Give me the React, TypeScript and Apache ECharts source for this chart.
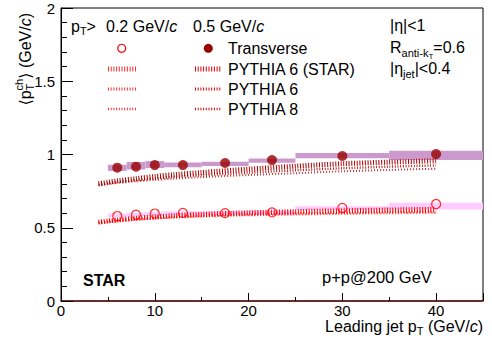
import React, { useEffect, useRef } from "react";
import * as echarts from "echarts";

// ---- data ----
const binLo = [5, 7, 9, 11, 15, 20, 25, 35];
const binHi = [7, 9, 11, 15, 20, 25, 35, 45];
const ptX = [6, 8, 10, 13, 17.5, 22.5, 30, 40];
const trans05 = [0.91, 0.917, 0.928, 0.928, 0.942, 0.962, 0.99, 1.003];
const trans02 = [0.58, 0.589, 0.597, 0.601, 0.6, 0.605, 0.635, 0.662];
const sys05Lo = [0.888, 0.898, 0.908, 0.913, 0.922, 0.944, 0.975, 0.962];
const sys05Hi = [0.93, 0.948, 0.955, 0.945, 0.95, 0.972, 1.01, 1.025];
const sys02Lo = [0.572, 0.577, 0.582, 0.586, 0.588, 0.592, 0.622, 0.625];
const sys02Hi = [0.597, 0.602, 0.607, 0.612, 0.612, 0.617, 0.646, 0.671];

const curveX = [4, 5, 6, 8, 10, 12, 15, 20, 25, 30, 35, 40];
const py6star05 = [0.8, 0.81, 0.82, 0.835, 0.85, 0.862, 0.877, 0.9, 0.92, 0.937, 0.948, 0.957];
const py6_05 = [0.795, 0.804, 0.812, 0.825, 0.836, 0.846, 0.858, 0.876, 0.892, 0.906, 0.917, 0.926];
const py8_05 = [0.79, 0.798, 0.805, 0.817, 0.826, 0.835, 0.845, 0.86, 0.872, 0.885, 0.895, 0.903];
const py6star02 = [0.538, 0.546, 0.553, 0.565, 0.574, 0.582, 0.591, 0.602, 0.61, 0.616, 0.621, 0.626];
const py6_02 = [0.535, 0.542, 0.549, 0.56, 0.568, 0.575, 0.583, 0.592, 0.598, 0.603, 0.607, 0.61];
const py8_02 = [0.532, 0.539, 0.545, 0.555, 0.563, 0.569, 0.576, 0.585, 0.59, 0.595, 0.599, 0.602];

const FONT = '"Liberation Sans", Arial, "DejaVu Sans", sans-serif';

type Part = { t: string; s: number; dy?: number; it?: boolean; b?: boolean; back?: boolean };

let _ctx: CanvasRenderingContext2D | null = null;
function fontOf(p: Part) {
  return `${p.it ? "italic " : ""}${p.b ? "bold " : ""}${p.s}px ${FONT}`;
}
function tw(p: Part) {
  if (!_ctx) _ctx = document.createElement("canvas").getContext("2d");
  _ctx!.font = fontOf(p);
  return _ctx!.measureText(p.t).width;
}
function layout(parts: Part[]) {
  let cur = 0;
  let lastStart = 0;
  let lastW = 0;
  const pos: number[] = [];
  parts.forEach((p) => {
    const w = tw(p);
    if (p.back) {
      pos.push(lastStart);
      cur = lastStart + Math.max(lastW, w);
      lastW = Math.max(lastW, w);
    } else {
      pos.push(cur);
      lastStart = cur;
      lastW = w;
      cur += w;
    }
  });
  return { pos, width: cur };
}
function run(parts: Part[], x0: number, y0: number, color: string, align: "left" | "right" = "left") {
  const { pos, width } = layout(parts);
  const start = align === "right" ? x0 - width : x0;
  return parts.map((p, i) => ({
    type: "text",
    x: start + pos[i],
    y: y0 + (p.dy || 0),
    silent: true,
    style: { text: p.t, font: fontOf(p), fill: color, textAlign: "left", textVerticalAlign: "middle" },
  }));
}

function hline(x1: number, x2: number, y: number, color: string, w: number, dash: number[]) {
  return {
    type: "line",
    silent: true,
    shape: { x1, y1: y, x2, y2: y },
    style: { stroke: color, lineWidth: w, lineDash: dash },
  };
}

export default function App() {
  const ref = useRef<HTMLDivElement>(null);
  useEffect(() => {
    document.body.style.margin = "0";
    const chart = echarts.init(ref.current!, null, { renderer: "svg" });

    const boxes05 = binLo.map((b, i) => [b, binHi[i], sys05Lo[i], sys05Hi[i]]);
    const boxes02 = binLo.map((b, i) => [b, binHi[i], sys02Lo[i], sys02Hi[i]]);
    const boxSeries = (data: number[][], color: string) => ({
      type: "custom",
      data,
      encode: { x: [0, 1], y: [2, 3] },
      renderItem: (_p: any, api: any) => {
        const a = api.coord([api.value(0), api.value(3)]);
        const b = api.coord([api.value(1), api.value(2)]);
        return {
          type: "rect",
          shape: { x: a[0], y: a[1], width: b[0] - a[0], height: b[1] - a[1] },
          style: { fill: color },
        };
      },
      z: 1,
    });
    const curve = (ys: number[], color: string, width: number, dash: number[], opacity = 1) => ({
      type: "line",
      data: curveX.map((x, i) => [x, ys[i]]),
      smooth: 0.3,
      showSymbol: false,
      symbol: "none",
      lineStyle: { color, width, type: dash, opacity },
      z: 2,
    });

    const red = "#ff0000";
    const dred = "#aa0000";

    const ytitle = [
      { t: "⟨p", s: 16 },
      { t: "T", s: 11, dy: 5 },
      { t: "ch", s: 11, dy: -6, back: true },
      { t: "⟩ (GeV/", s: 16 },
      { t: "c", s: 16, it: true },
      { t: ")", s: 16 },
    ] as Part[];
    const yW = layout(ytitle).width;

    const graphic: any[] = [
      // header row
      ...run([{ t: "p", s: 16 }, { t: "T", s: 11, dy: 5 }, { t: ">", s: 16 }], 71, 26, "#000"),
      ...run([{ t: "0.2 GeV/", s: 16 }, { t: "c", s: 16, it: true }], 106, 26, "#000"),
      ...run([{ t: "0.5 GeV/", s: 16 }, { t: "c", s: 16, it: true }], 193, 26, "#000"),
      // legend markers
      { type: "circle", silent: true, shape: { cx: 121.7, cy: 48.3, r: 4 }, style: { fill: "none", stroke: red, lineWidth: 1.2 } },
      { type: "circle", silent: true, shape: { cx: 208.3, cy: 48.3, r: 4.5 }, style: { fill: "#990000" } },
      hline(108, 136, 69, "#ff3030", 5, [1, 1.7]),
      hline(195, 222, 69, "#e00000", 5, [1, 1.7]),
      hline(108, 136, 89, "#ff3030", 3, [1, 1.7]),
      hline(195, 222, 89, "#e00000", 3, [1, 1.7]),
      hline(108, 136, 109, "#ff3030", 2.5, [1, 1.7]),
      hline(195, 222, 109, "#e00000", 2.5, [1, 1.7]),
      ...run([{ t: "Transverse", s: 16 }], 228, 48, "#000"),
      ...run([{ t: "PYTHIA 6 (STAR)", s: 16 }], 228, 69, "#000"),
      ...run([{ t: "PYTHIA 6", s: 16 }], 228, 89, "#000"),
      ...run([{ t: "PYTHIA 8", s: 16 }], 228, 109, "#000"),
      // right block
      ...run([{ t: "|η|<1", s: 16 }], 390, 25, "#000"),
      ...run(
        [
          { t: "R", s: 16 },
          { t: "anti-k", s: 11, dy: 6 },
          { t: "T", s: 8, dy: 9 },
          { t: "=0.6", s: 16 },
        ],
        390,
        47,
        "#000"
      ),
      ...run([{ t: "|η", s: 16 }, { t: "jet", s: 11, dy: 6 }, { t: "|<0.4", s: 16 }], 390, 68, "#000"),
      // STAR + p+p
      ...run([{ t: "STAR", s: 16, b: true }], 83, 280, "#000"),
      ...run([{ t: "p+p@200 GeV", s: 16.5 }], 322, 277, "#000"),
      // x title
      ...run(
        [
          { t: "Leading jet p", s: 16 },
          { t: "T", s: 11, dy: 5 },
          { t: " (GeV/", s: 16 },
          { t: "c", s: 16, it: true },
          { t: ")", s: 16 },
        ],
        483,
        326,
        "#000",
        "right"
      ),
      // y title
      {
        type: "group",
        x: 25,
        y: 13,
        rotation: Math.PI / 2,
        silent: true,
        children: run(ytitle, -yW, 0, "#000"),
      },
    ];

    chart.setOption({
      animation: false,
      backgroundColor: "#fff",
      grid: { left: 61, right: 9, top: 8, bottom: 40, show: true, borderColor: "#000", borderWidth: 1, backgroundColor: "transparent" },
      xAxis: [
        {
          type: "value",
          min: 0,
          max: 45,
          interval: 10,
          axisLine: { lineStyle: { color: "#661111", width: 1.5 } },
          axisTick: { inside: true, length: 8, lineStyle: { color: "#000" } },
          axisLabel: {
            fontSize: 15,
            fontFamily: FONT,
            color: "#000",
            margin: 2,
            formatter: (v: number) => (v === 45 ? "" : String(v)),
          },
          splitLine: { show: false },
        },
        {
          type: "value",
          min: 0,
          max: 45,
          interval: 5,
          position: "bottom",
          axisLine: { show: false },
          axisTick: { inside: true, length: 4, lineStyle: { color: "#000" } },
          axisLabel: { show: false },
          splitLine: { show: false },
        },
      ],
      yAxis: {
        type: "value",
        min: 0,
        max: 2,
        interval: 0.5,
        axisLine: { show: true, lineStyle: { color: "#000" } },
        axisTick: { show: true, inside: true, length: 12, lineStyle: { color: "#000" } },
        minorTick: { show: true, splitNumber: 5, length: 6, lineStyle: { color: "#000" } },
        axisLabel: {
          fontSize: 15,
          fontFamily: FONT,
          color: "#000",
          margin: 6,
          formatter: (v: number) => String(v),
        },
        splitLine: { show: false },
      },
      series: [
        boxSeries(boxes05, "#cc99cc"),
        boxSeries(boxes02, "#ffccff"),
        curve(py8_05, dred, 2, [1, 2], 0.8),
        curve(py6_05, dred, 2.5, [1, 1.7], 0.85),
        curve(py6star05, dred, 5, [1, 1.7]),
        curve(py8_02, red, 2, [1, 2], 0.8),
        curve(py6_02, red, 2.5, [1, 1.7], 0.85),
        curve(py6star02, red, 5, [1, 1.7]),
        {
          type: "scatter",
          data: ptX.map((x, i) => [x, trans02[i]]),
          symbol: "circle",
          symbolSize: 9,
          itemStyle: { color: "rgba(0,0,0,0)", borderColor: red, borderWidth: 1.2 },
          z: 3,
        },
        {
          type: "scatter",
          data: ptX.map((x, i) => [x, trans05[i]]),
          symbol: "circle",
          symbolSize: 10,
          itemStyle: { color: "#990000" },
          z: 3,
        },
      ],
      graphic,
    });
    return () => chart.dispose();
  }, []);
  return <div ref={ref} style={{ position: "fixed", left: 0, top: 0, width: 492, height: 341 }} />;
}
